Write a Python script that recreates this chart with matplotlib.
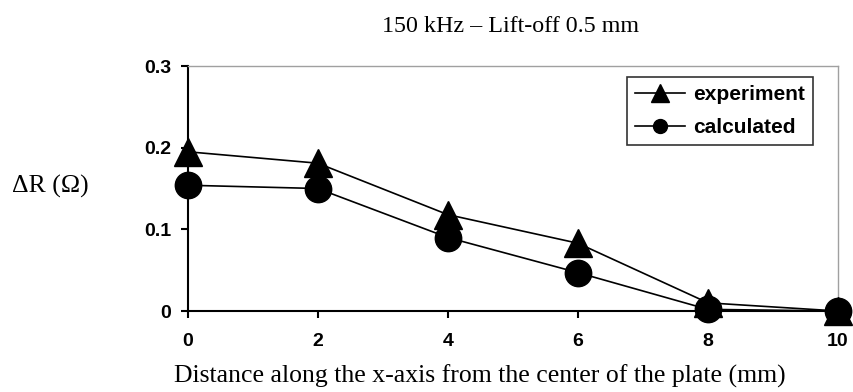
import matplotlib
matplotlib.use("Agg")
import matplotlib.pyplot as plt
from matplotlib.lines import Line2D

distance = [0, 2, 4, 6, 8, 10]
experiment = [0.195, 0.181, 0.118, 0.083, 0.010, 0.0]
calculated = [0.154, 0.150, 0.090, 0.047, 0.002, 0.0]
x_ticks = [0, 2, 4, 6, 8, 10]
y_ticks = [0, 0.1, 0.2, 0.3]
y_tick_labels = ["0", "0.1", "0.2", "0.3"]

fig = plt.figure(figsize=(8.54, 3.92), dpi=100)
ax = fig.add_axes([0.2198, 0.2066, 0.9813 - 0.2198, 0.8316 - 0.2066])

ax.plot(distance, experiment, color="black", lw=1.2, marker="^", markersize=19.5,
        clip_on=False, zorder=3, label="experiment")
ax.plot(distance, calculated, color="black", lw=1.2, marker="o", markersize=19,
        clip_on=False, zorder=3, label="calculated")

ax.set_xlim(0, 10)
ax.set_ylim(0, 0.3)
ax.set_xticks(x_ticks)
ax.set_xticklabels([str(v) for v in x_ticks])
ax.set_yticks(y_ticks)
ax.set_yticklabels(y_tick_labels)
for lab in ax.get_xticklabels() + ax.get_yticklabels():
    lab.set_family("Liberation Sans")
    lab.set_fontweight("bold")
    lab.set_fontsize(14)
ax.tick_params(axis="both", direction="out", length=5, width=1.5, color="black")
ax.tick_params(axis="x", pad=11)
ax.tick_params(axis="y", pad=7)

for s in ["left", "bottom"]:
    ax.spines[s].set_color("black")
    ax.spines[s].set_linewidth(1.5)
for s in ["top", "right"]:
    ax.spines[s].set_color("#a0a0a0")
    ax.spines[s].set_linewidth(1.0)

handles = [Line2D([], [], color="black", lw=1.2, marker="^", markersize=13),
           Line2D([], [], color="black", lw=1.2, marker="o", markersize=10)]
leg = ax.legend(handles, ["experiment", "calculated"], loc="upper right",
                bbox_to_anchor=(0.9615, 0.955), borderaxespad=0.0,
                frameon=True, fancybox=False,
                edgecolor="black", handlelength=2.4, handletextpad=0.38,
                borderpad=0.4, labelspacing=0.65,
                prop={"family": "Liberation Sans", "weight": "bold", "size": 15})
leg.get_frame().set_linewidth(1.2)

fig.text(0.598, 0.918, "150 kHz \u2013 Lift-off 0.5 mm", ha="center", va="baseline",
         family="Liberation Serif", fontsize=17.3)
fig.text(0.5615, 0.023, "Distance along the x-axis from the center of the plate (mm)",
         ha="center", va="baseline", family="Liberation Serif", fontsize=18.5)
fig.text(12 / 854, 0.508, "\u0394R (\u03a9)", ha="left", va="baseline",
         family="Liberation Serif", fontsize=18.5)

fig.savefig("out.png", dpi=100)
